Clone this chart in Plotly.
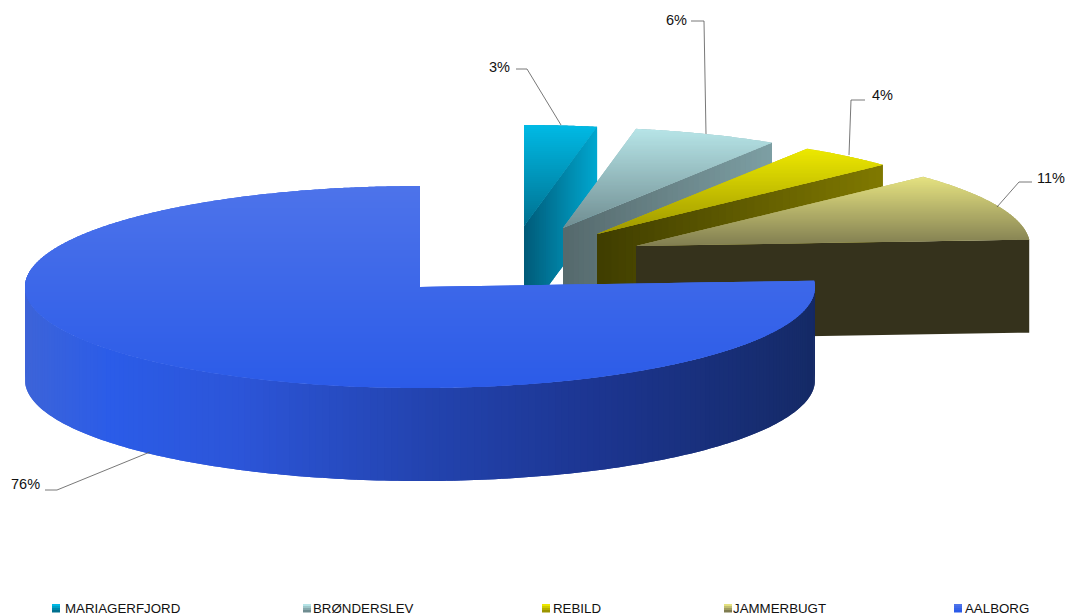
import numpy as np
import plotly.graph_objects as go

# ---- data ----
categories = ["MARIAGERFJORD", "BRØNDERSLEV", "REBILD", "JAMMERBUGT", "AALBORG"]
values = [3, 6, 4, 11, 76]

# ---- styling / layout of the exploded 3D pie ----
W, H = 1072, 615
radius_x = [390.0, 390.0, 392.0, 394.0, 395.0]
RY, DEPTH = 101.0, 93.0
apex = [(524, 226), (563, 228), (597, 234), (636, 246), (420, 287)]
top_grad = [("#00b9e4", "#00708f"), ("#b6e4e7", "#6f8c90"), ("#ece800", "#9c9500"),
            ("#e4e180", "#7f7c50"), ("#4d73ea", "#2b5be8")]
cut_grad = [("#005a78", "#00a8d0"), ("#55696c", "#7d9fa4"), ("#3f3d00", "#807900"),
            ("#35321c", "#35321c"), None]
rim_stops = [(25, "#3d64d8"), (110, "#2b5ce8"), (240, "#2c55d8"), (420, "#2344b0"),
             (600, "#1c3590"), (815, "#152a66")]
leaders = [
    ("3%", (499, 67), [516, 527, 561], [69, 69, 125]),
    ("6%", (676.5, 20), [691, 704, 706], [21, 21, 134]),
    ("4%", (882, 95), [865, 851, 849], [100, 100, 155]),
    ("11%", (1051, 178), [1032, 1019, 997], [182, 182, 207]),
    ("76%", (25.5, 484), [45, 57, 150], [490, 490, 452]),
]
legend_x = [52, 303, 542, 724, 954]
legend_text_x = [63, 311, 551, 731, 963]
FONT = "Liberation Sans, Arial, sans-serif"


def rgb(h):
    return np.array([int(h[i:i + 2], 16) for i in (1, 3, 5)], float)


def mix(a, b, t):
    c = rgb(a) * (1 - t) + rgb(b) * t
    return "rgb(%d,%d,%d)" % tuple(np.round(c))


def clip_half(poly, y, keep_above):
    out = []
    n = len(poly)
    for i in range(n):
        p, q = poly[i], poly[(i + 1) % n]
        pin = p[1] <= y if keep_above else p[1] >= y
        qin = q[1] <= y if keep_above else q[1] >= y
        if pin:
            out.append(p)
        if pin != qin:
            t = (y - p[1]) / (q[1] - p[1])
            out.append((p[0] + t * (q[0] - p[0]), y))
    return out


fig = go.Figure()


def poly_trace(pts, color):
    xs = [p[0] for p in pts] + [pts[0][0]]
    ys = [p[1] for p in pts] + [pts[0][1]]
    fig.add_trace(go.Scatter(x=xs, y=ys, mode="none", fill="toself", fillcolor=color,
                             hoverinfo="skip", showlegend=False))


def arc(cx, cy, rx, a0, a1, n=None):
    n = n or max(3, int(abs(a1 - a0) * 3))
    a = np.radians(np.linspace(a0, a1, n))
    return [(cx + rx * np.sin(t), cy - RY * np.cos(t)) for t in a]


def top_face(cx, cy, rx, a0, a1, grad):
    # underlay, then shade convex pieces in overlapping horizontal bands
    poly_trace([(cx, cy)] + arc(cx, cy, rx, a0, a1), mix(grad[0], grad[1], 0.5))
    cuts = [a0] + [c for c in (90, 180, 270) if a0 < c < a1] + [a1]
    ymin, ymax = cy - RY, cy + RY
    if a1 <= 90:
        ymax = cy
        ymin = cy - RY * np.cos(np.radians(a0))
    step = 2.0
    for a, b in zip(cuts[:-1], cuts[1:]):
        poly = [(cx, cy)] + arc(cx, cy, rx, a, b)
        y = ymin
        while y < ymax:
            part = clip_half(clip_half(poly, y, False), y + step + 1, True)
            if len(part) >= 3:
                poly_trace(part, mix(grad[0], grad[1], (y - ymin) / max(ymax - ymin, 1)))
            y += step


def cut_face(cx, cy, rx, a, grad):
    ex = cx + rx * np.sin(np.radians(a))
    ey = cy - RY * np.cos(np.radians(a))
    n = 40 if grad[0] != grad[1] else 1
    for i in range(n):
        t0, t1 = i / n, min(1.0, (i + 2) / n)
        p0 = (cx + (ex - cx) * t0, cy + (ey - cy) * t0)
        p1 = (cx + (ex - cx) * t1, cy + (ey - cy) * t1)
        poly_trace([p0, p1, (p1[0], p1[1] + DEPTH), (p0[0], p0[1] + DEPTH)],
                   mix(grad[0], grad[1], (i + 0.5) / n))


def rim_color(x):
    for (x0, c0), (x1, c1) in zip(rim_stops[:-1], rim_stops[1:]):
        if x <= x1:
            return mix(c0, c1, max(0, (x - x0) / (x1 - x0)))
    return rim_stops[-1][1]


def rim(cx, cy, rx, a0, a1):
    a0, a1 = max(a0, 80), min(a1, 280)
    pts = arc(cx, cy, rx, a0, a1, n=int((a1 - a0) / 1.0))
    for j in range(len(pts) - 1):
        p, q = pts[j], pts[min(j + 2, len(pts) - 1)]
        m = pts[j + 1]
        poly_trace([p, m, q, (q[0], q[1] + DEPTH), (m[0], m[1] + DEPTH), (p[0], p[1] + DEPTH)],
                   rim_color((p[0] + m[0]) / 2))


# slice angles follow directly from the values, clockwise from 12 o'clock
ends = np.cumsum(values) / np.sum(values) * 360
starts = np.concatenate([[0], ends[:-1]])
big = len(values) - 1
for i in range(len(values)):
    cx, cy = apex[i]
    if i == big:
        rim(cx, cy, radius_x[i], starts[i], ends[i])
    else:
        cut_face(cx, cy, radius_x[i], ends[i], cut_grad[i])
    top_face(cx, cy, radius_x[i], starts[i], ends[i], top_grad[i])

# leader lines and labels
total = sum(values)
annotations = []
for i, (txt, pos, lx, ly) in enumerate(leaders):
    fig.add_trace(go.Scatter(x=lx, y=ly, mode="lines", line=dict(color="#555555", width=0.8),
                             hoverinfo="skip", showlegend=False))
    annotations.append(dict(x=pos[0], y=pos[1], text="%d%%" % round(values[i] / total * 100),
                            xref="x", yref="y", showarrow=False,
                            font=dict(family=FONT, size=14.5, color="#111111")))

# legend
for i, name in enumerate(categories):
    x0 = legend_x[i]
    grad = top_grad[i]
    for k in range(4):
        poly_trace([(x0, 604 + 2 * k), (x0 + 8, 604 + 2 * k), (x0 + 8, 606.5 + 2 * k), (x0, 606.5 + 2 * k)],
                   mix(grad[0], grad[1], k / 3))
    annotations.append(dict(x=legend_text_x[i], y=608.5, text=name, xref="x", yref="y",
                            xanchor="left", showarrow=False,
                            font=dict(family=FONT, size=13.3, color="#111111")))

fig.update_layout(
    width=W, height=H, margin=dict(l=0, r=0, t=0, b=0),
    paper_bgcolor="white", plot_bgcolor="white", showlegend=False,
    xaxis=dict(range=[0, W], visible=False, fixedrange=True),
    yaxis=dict(range=[H, 0], visible=False, fixedrange=True),
    annotations=annotations,
)
fig.write_html("out.html", post_script="document.body.style.margin='0';",
               config={"displayModeBar": False})
